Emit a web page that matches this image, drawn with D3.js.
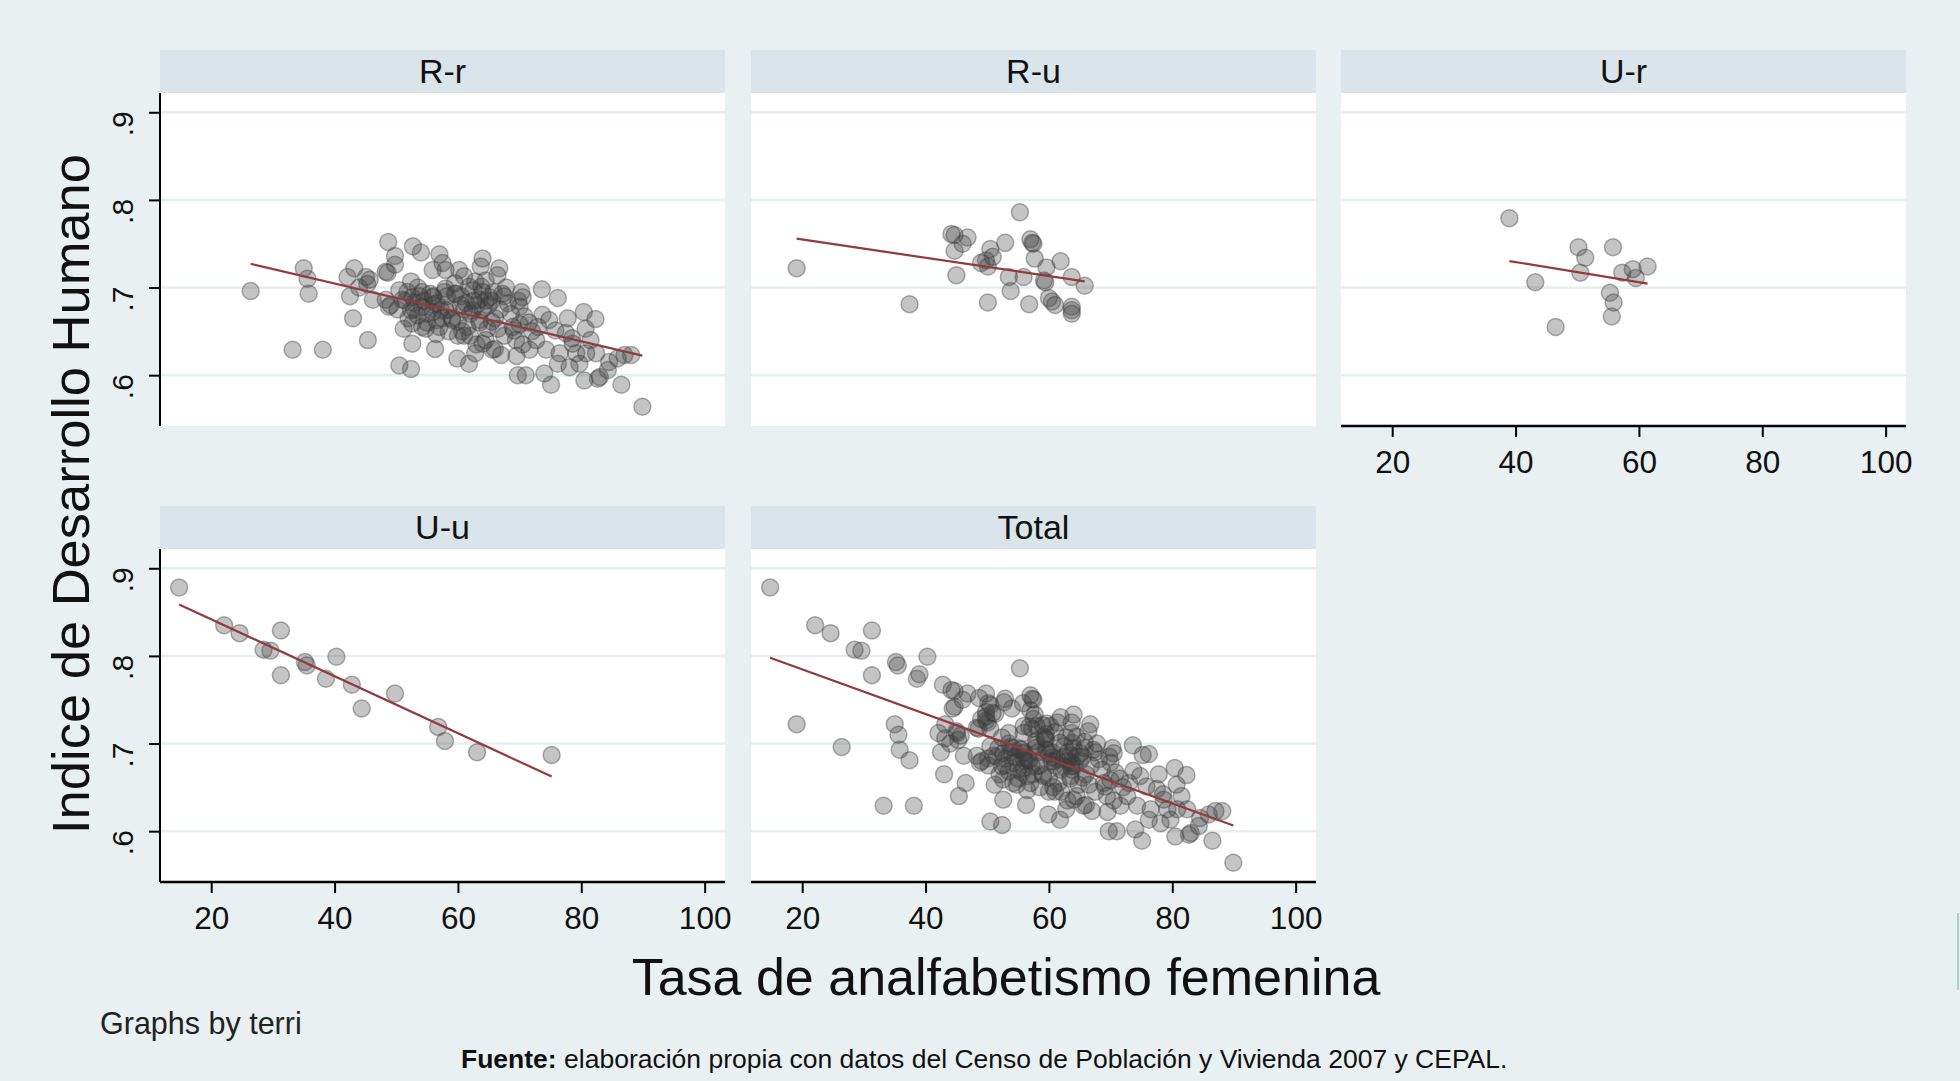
<!DOCTYPE html>
<html>
<head>
<meta charset="utf-8">
<script src="https://cdn.jsdelivr.net/npm/d3@7"></script>
<style>
  body { margin: 0; background: #e8f0f2; }
  svg { display: block; font-family: "Liberation Sans", Arial, sans-serif; }
</style>
</head>
<body>
<svg id="chart" width="1960" height="1081"></svg>
<script>
/* Facetted scatter (Stata "by(terri)" style): IDH vs female illiteracy,
   one panel per territory group plus a Total panel, each with a linear fit. */

const groupNames = ['R-r', 'R-u', 'U-r', 'U-u', 'Total'];
const xTicks = [20, 40, 60, 80, 100];
const yTicks = [0.6, 0.7, 0.8, 0.9];
const yTickLabels = ['.6', '.7', '.8', '.9'];

// [tasa de analfabetismo femenina, indice de desarrollo humano]
const ruralRural = [
  [26.4,.696],[35.0,.722],[35.6,.710],[35.8,.693],[33.2,.629],[38.1,.629],
  [43.2,.722],[42.1,.712],[42.5,.690],[43.0,.665],[45.4,.640],
  [45.1,.712],[45.7,.709],[45.3,.704],[46.2,.686],[44.0,.700],
  [48.7,.752],[48.3,.718],[48.8,.678],[49.8,.736],[49.8,.726],[48.6,.717],
  [52.7,.747],[54.0,.740],[57.0,.738],[57.5,.728],[55.9,.720],[58.0,.720],
  [52.4,.707],[51.8,.695],[49.1,.680],[52.6,.689],[54.2,.695],[55.9,.689],
  [58.0,.699],[52.4,.674],[52.6,.659],[54.2,.655],[57.0,.655],[58.0,.674],
  [55.9,.672],[52.6,.636],[56.3,.630],[50.5,.611],[52.4,.607],
  [50.5,.697],[51.0,.686],[54.2,.678],[48.3,.686],
  [51.5,.685],[53.0,.683],[53.5,.668],[55.0,.670],[56.5,.682],[57.2,.675],
  [54.8,.653],[56.5,.647],[51.2,.653],[53.8,.690],[55.5,.693],[57.8,.695],
  [50.2,.675],[52.0,.665],
  [53.0,.675],[54.5,.685],[56.0,.690],[57.5,.665],[58.5,.675],[55.0,.660],
  [56.5,.663],[58.5,.650],[56.0,.680],[53.5,.700],[58.2,.690],
  [60.2,.720],[64.0,.733],[63.7,.724],[66.7,.722],[66.4,.714],[59.7,.693],
  [61.8,.701],[63.5,.686],[62.4,.674],[65.1,.689],[67.2,.693],[68.1,.682],
  [59.1,.663],[60.7,.650],[63.5,.663],[64.0,.636],[65.6,.629],[59.9,.619],
  [61.8,.613],[68.9,.655],[68.6,.670],[61.3,.682],
  [60.5,.690],[62.5,.697],[63.0,.680],[64.5,.685],[65.5,.661],[66.5,.653],
  [67.5,.690],[62.0,.645],[63.0,.635],[64.5,.640],[66.0,.630],[67.5,.645],
  [60.0,.661],[61.0,.675],[63.8,.701],[65.8,.695],[62.8,.625],[67.0,.623],
  [59.5,.693],[64.8,.653],
  [59.0,.665],[60.5,.680],[61.5,.655],[62.0,.670],[62.5,.685],[63.5,.660],
  [64.0,.695],[65.0,.680],[66.0,.665],[60.0,.645],[61.0,.645],[64.0,.675],
  [65.5,.685],[66.8,.675],[59.5,.705],[61.0,.713],[62.8,.707],[64.5,.708],
  [67.8,.700],
  [73.6,.698],[76.2,.688],[80.4,.672],[82.3,.664],[80.7,.653],[77.8,.665],
  [73.7,.669],[74.8,.663],[70.5,.689],[70.0,.678],[70.8,.667],[69.1,.651],
  [69.4,.640],[72.7,.640],[71.6,.629],[74.3,.629],[76.5,.625],[78.6,.636],
  [79.2,.625],[80.8,.625],[82.4,.625],[76.2,.613],[78.1,.609],[74.0,.602],
  [69.7,.600],[71.0,.600],[75.1,.589],[80.5,.594],[82.7,.596],[84.3,.606],
  [86.5,.589],[85.9,.619],[87.0,.623],[88.1,.623],[89.9,.564],[79.7,.613],
  [83.0,.598],[69.5,.622],
  [70.3,.695],[71.5,.660],[72.0,.650],[70.0,.658],[73.0,.655],[75.8,.651],
  [77.5,.648],[78.5,.642],[81.5,.640],[84.5,.615],[70.5,.635],[69.8,.685]
];

const ruralUrban = [
  [19.1,.722],[37.4,.681],[55.3,.786],[44.2,.761],[44.7,.760],[46.8,.757],
  [46.0,.750],[44.7,.742],[45.0,.714],[50.5,.744],[52.9,.751],[50.9,.735],
  [49.0,.728],[50.1,.724],[49.8,.731],[57.0,.755],[57.3,.751],[57.5,.750],
  [57.7,.733],[59.6,.723],[61.9,.730],[53.5,.712],[55.9,.712],[59.2,.708],
  [59.4,.706],[63.7,.712],[65.8,.702],[53.8,.696],[50.1,.683],[56.8,.681],
  [60.0,.688],[60.5,.684],[61.0,.680],[63.7,.678],[63.7,.670],[63.7,.674]
];

const urbanRural = [
  [39.0,.779],[50.2,.746],[51.3,.734],[55.8,.746],[50.5,.717],[43.2,.706],
  [57.3,.717],[59.0,.721],[61.4,.724],[59.5,.711],[55.3,.694],[55.9,.683],
  [55.6,.667],[46.5,.655]
];

const urbanUrban = [
  [14.8,.878],[22.1,.835],[24.6,.826],[31.3,.829],[28.5,.807],[29.6,.806],
  [31.3,.778],[35.2,.793],[35.5,.789],[40.3,.799],[38.6,.774],[42.8,.767],
  [44.4,.740],[49.8,.757],[56.8,.719],[57.9,.703],[63.1,.690],[75.2,.687]
];

const groupData = {
  'R-r': ruralRural,
  'R-u': ruralUrban,
  'U-r': urbanRural,
  'U-u': urbanUrban,
  'Total': [].concat(ruralRural, ruralUrban, urbanRural, urbanUrban)
};

const colors = {
  background: '#e8f0f2',
  header: '#d9e5ea',
  plot: '#ffffff',
  grid: '#e7eff1',
  point: 'rgb(60,60,60)',
  fit: '#933a3d',
  text: '#111111'
};

// panel placement (col,row) and which axes it carries
const panels = [
  {name: 'R-r',   col: 0, row: 0, yAxis: true,  xAxis: false},
  {name: 'R-u',   col: 1, row: 0, yAxis: false, xAxis: false},
  {name: 'U-r',   col: 2, row: 0, yAxis: false, xAxis: true},
  {name: 'U-u',   col: 0, row: 1, yAxis: true,  xAxis: true},
  {name: 'Total', col: 1, row: 1, yAxis: false, xAxis: true}
];

const colX = [160, 751, 1341];
const PANEL_W = 565;
const headerTop = [50, 506];
const HEADER_H = 43;
const PLOT_H = 333;

const svg = d3.select('#chart');
svg.append('rect').attr('width', 1960).attr('height', 1081).attr('fill', colors.background);

function linearFit(points) {
  let mx = d3.mean(points, d => d[0]), my = d3.mean(points, d => d[1]);
  let sxy = d3.sum(points, d => (d[0] - mx) * (d[1] - my));
  let sxx = d3.sum(points, d => (d[0] - mx) * (d[0] - mx));
  let b = sxy / sxx, a = my - b * mx;
  let [x0, x1] = d3.extent(points, d => d[0]);
  return [[x0, a + b * x0], [x1, a + b * x1]];
}

function drawPanel(p) {
  let left = colX[p.col];
  let top = headerTop[p.row] + HEADER_H;
  let x = d3.scaleLinear().domain([11.7, 103.3]).range([left, left + PANEL_W]);
  let y = d3.scaleLinear().domain([0.542, 0.922]).range([top + PLOT_H, top]);
  let g = svg.append('g').attr('class', 'panel');

  g.append('rect')
    .attr('x', left).attr('y', headerTop[p.row])
    .attr('width', PANEL_W).attr('height', HEADER_H)
    .attr('fill', colors.header);
  g.append('text')
    .attr('x', left + PANEL_W / 2).attr('y', headerTop[p.row] + 33)
    .attr('text-anchor', 'middle')
    .attr('font-size', 34)
    .attr('fill', colors.text)
    .text(p.name);

  g.append('rect')
    .attr('x', left).attr('y', top)
    .attr('width', PANEL_W).attr('height', PLOT_H)
    .attr('fill', colors.plot);

  g.selectAll('line.grid').data(yTicks).join('line')
    .attr('class', 'grid')
    .attr('x1', left).attr('x2', left + PANEL_W)
    .attr('y1', d => y(d)).attr('y2', d => y(d))
    .attr('stroke', colors.grid).attr('stroke-width', 2.5);

  let data = groupData[p.name];
  g.selectAll('circle').data(data).join('circle')
    .attr('cx', d => x(d[0])).attr('cy', d => y(d[1]))
    .attr('r', 8.5)
    .attr('fill', colors.point).attr('fill-opacity', 0.3)
    .attr('stroke', colors.point).attr('stroke-opacity', 0.4)
    .attr('stroke-width', 1.5);

  g.append('path')
    .datum(linearFit(data))
    .attr('d', d3.line().x(d => x(d[0])).y(d => y(d[1])))
    .attr('stroke', colors.fit).attr('stroke-width', 2.2).attr('fill', 'none');

  if (p.yAxis) {
    let ax = g.append('g')
      .attr('transform', `translate(${left},0)`)
      .call(d3.axisLeft(y).tickValues(yTicks).tickSize(11).tickPadding(0)
        .tickFormat((d, i) => yTickLabels[i]));
    ax.select('.domain').attr('d', `M0,${top}V${top + PLOT_H}`).attr('stroke-width', 2);
    ax.selectAll('.tick line').attr('stroke-width', 2);
    ax.selectAll('.tick text')
      .attr('font-size', 30)
      .attr('font-family', '"Liberation Sans", Arial, sans-serif')
      .attr('fill', colors.text)
      .attr('text-anchor', 'middle')
      .attr('dy', 0)
      .attr('transform', 'translate(-27,0) rotate(-90)');
  }

  if (p.xAxis) {
    let ax = g.append('g')
      .attr('transform', `translate(0,${top + PLOT_H})`)
      .call(d3.axisBottom(x).tickValues(xTicks).tickSize(11).tickPadding(14));
    ax.select('.domain').attr('d', `M${left},0H${left + PANEL_W}`).attr('stroke-width', 2.5);
    ax.selectAll('.tick line').attr('stroke-width', 2);
    ax.selectAll('.tick text')
      .attr('font-size', 31.5)
      .attr('font-family', '"Liberation Sans", Arial, sans-serif')
      .attr('fill', colors.text);
  }
}

panels.forEach(drawPanel);

svg.append('text')
  .attr('transform', 'translate(89,494) rotate(-90)')
  .attr('text-anchor', 'middle')
  .attr('font-size', 52.5)
  .attr('fill', colors.text)
  .text('Indice de Desarrollo Humano');

svg.append('text')
  .attr('x', 1006).attr('y', 995)
  .attr('text-anchor', 'middle')
  .attr('font-size', 52)
  .attr('fill', colors.text)
  .text('Tasa de analfabetismo femenina');

svg.append('text')
  .attr('x', 100).attr('y', 1034)
  .attr('font-size', 30.5)
  .attr('fill', '#222')
  .text('Graphs by terri');

let source = svg.append('text')
  .attr('x', 461).attr('y', 1068)
  .attr('font-size', 26.5)
  .attr('fill', colors.text);
source.append('tspan').attr('font-weight', 'bold').text('Fuente:');
source.append('tspan').text(' elaboración propia con datos del Censo de Población y Vivienda 2007 y CEPAL.');

// thin edge mark on the right border of the original image
svg.append('line')
  .attr('x1', 1958).attr('x2', 1958).attr('y1', 913).attr('y2', 990)
  .attr('stroke', '#a9d2c9').attr('stroke-width', 2);
</script>
</body>
</html>
